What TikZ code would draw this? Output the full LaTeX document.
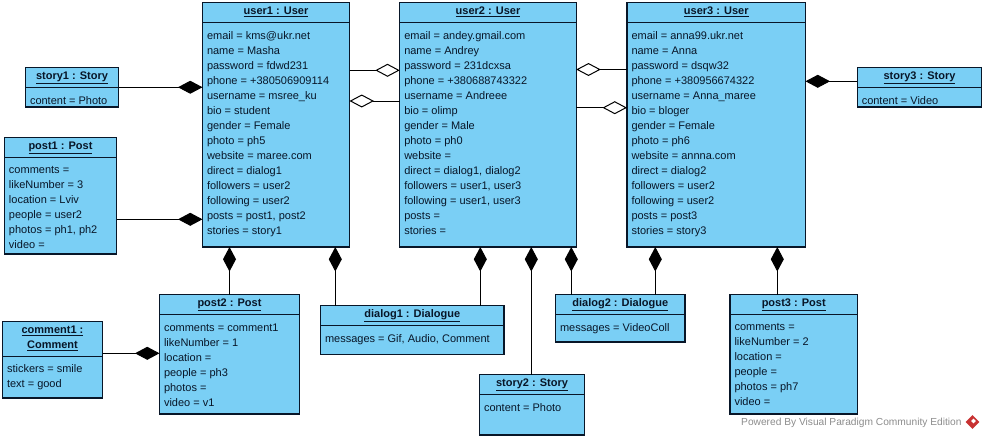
\documentclass[tikz,border=0pt]{standalone}
\usepackage{fontspec}
\setmainfont{Liberation Sans}
\usetikzlibrary{arrows.meta,shapes.geometric}
\definecolor{objfill}{RGB}{122, 207, 245}
\definecolor{objline}{RGB}{8, 22, 40}
\definecolor{vpred}{RGB}{200, 50, 50}
\tikzset{
	objbox/.style={draw=objline, fill=objfill, line width=1.1pt, inner sep=0pt, outer sep=0pt},
	objtitle/.style={inner sep=0pt, outer sep=0pt, align=center, text=objline, font=\fontsize{11}{15}\selectfont\bfseries},
	objattrs/.style={inner sep=0pt, outer sep=0pt, align=left, text=objline, font=\fontsize{11}{15}\selectfont, anchor=north west, xshift=4.5pt},
	headline/.style={draw=objline, line width=1pt},
	comp/.style={draw=black, line width=1pt, -{Diamond[length=24.5pt, width=13pt, fill=black]}},
	aggr/.style={draw=black, line width=1pt, -{Diamond[length=24.5pt, width=13pt, fill=white]}}
}

\begin{document}
\begin{tikzpicture}[x=1pt, y=-1pt]
	\useasboundingbox (0, 0) rectangle (985, 439);

	% users
	\node [objbox, minimum width=147pt, minimum height=244.5pt] (user1) at (276, 124.75) {};
	\node [objtitle, minimum width=147pt, minimum height=19pt, anchor=north] (user1t) at (user1.north) {\underline{user1 : User}};
	\draw [headline] (user1.west |- 0, 22.5) -- (user1.east |- 0, 22.5);
	\node [objattrs, yshift=-29pt] (user1a) at (user1.north west) {email = kms@ukr.net\\name = Masha\\password = fdwd231\\phone = +380506909114\\username = msree\_ku\\bio = student\\gender = Female\\photo = ph5\\website = maree.com\\direct = dialog1\\followers = user2\\following = user2\\posts = post1, post2\\stories = story1};

	\node [objbox, minimum width=176.5pt, minimum height=244.5pt] (user2) at (488, 124.75) {};
	\node [objtitle, minimum width=176.5pt, minimum height=19pt, anchor=north] (user2t) at (user2.north) {\underline{user2 : User}};
	\draw [headline] (user2.west |- 0, 22.5) -- (user2.east |- 0, 22.5);
	\node [objattrs, yshift=-29pt] (user2a) at (user2.north west) {email = andey.gmail.com\\name = Andrey\\password = 231dcxsa\\phone = +380688743322\\username = Andreee\\bio = olimp\\gender = Male\\photo = ph0\\website =\\direct = dialog1, dialog2\\followers = user1, user3\\following = user1, user3\\posts =\\stories =};

	\node [objbox, minimum width=178.5pt, minimum height=244.5pt] (user3) at (716.25, 124.75) {};
	\node [objtitle, minimum width=178.5pt, minimum height=19pt, anchor=north] (user3t) at (user3.north) {\underline{user3 : User}};
	\draw [headline] (user3.west |- 0, 22.5) -- (user3.east |- 0, 22.5);
	\node [objattrs, yshift=-29pt] (user3a) at (user3.north west) {email = anna99.ukr.net\\name = Anna\\password = dsqw32\\phone = +380956674322\\username = Anna\_maree\\bio = bloger\\gender = Female\\photo = ph6\\website = annna.com\\direct = dialog2\\followers = user2\\following = user2\\posts = post3\\stories = story3};

	% stories
	\node [objbox, minimum width=93pt, minimum height=39.5pt] (story1) at (72, 87.25) {};
	\node [objtitle, minimum width=93pt, minimum height=20pt, anchor=north] (story1t) at (story1.north) {\underline{story1 : Story}};
	\draw [headline] (story1t.south west) -- (story1t.south east);
	\node [objattrs, yshift=-29pt] (story1a) at (story1.north west) {content = Photo};

	\node [objbox, minimum width=105pt, minimum height=60.5pt] (story2) at (532, 404.75) {};
	\node [objtitle, minimum width=105pt, minimum height=20pt, anchor=north] (story2t) at (story2.north) {\underline{story2 : Story}};
	\draw [headline] (story2t.south west) -- (story2t.south east);
	\node [objattrs, yshift=-29pt] (story2a) at (story2.north west) {content = Photo};

	\node [objbox, minimum width=124.5pt, minimum height=39.5pt] (story3) at (919.5, 87.25) {};
	\node [objtitle, minimum width=124.5pt, minimum height=20pt, anchor=north] (story3t) at (story3.north) {\underline{story3 : Story}};
	\draw [headline] (story3t.south west) -- (story3t.south east);
	\node [objattrs, yshift=-29pt] (story3a) at (story3.north west) {content = Video};

	% posts
	\node [objbox, minimum width=112pt, minimum height=116.5pt] (post1) at (60.5, 195.75) {};
	\node [objtitle, minimum width=112pt, minimum height=20pt, anchor=north] (post1t) at (post1.north) {\underline{post1 : Post}};
	\draw [headline] (post1t.south west) -- (post1t.south east);
	\node [objattrs, yshift=-29pt] (post1a) at (post1.north west) {comments =\\likeNumber = 3\\location = Lviv\\people = user2\\photos = ph1, ph2\\video =};

	\node [objbox, minimum width=140pt, minimum height=119.5pt] (post2) at (229.5, 354.25) {};
	\node [objtitle, minimum width=140pt, minimum height=20pt, anchor=north] (post2t) at (post2.north) {\underline{post2 : Post}};
	\draw [headline] (post2t.south west) -- (post2t.south east);
	\node [objattrs, yshift=-29pt] (post2a) at (post2.north west) {comments = comment1\\likeNumber = 1\\location =\\people = ph3\\photos =\\video = v1};

	\node [objbox, minimum width=127.5pt, minimum height=119.5pt] (post3) at (793.75, 354.25) {};
	\node [objtitle, minimum width=127.5pt, minimum height=20pt, anchor=north] (post3t) at (post3.north) {\underline{post3 : Post}};
	\draw [headline] (post3t.south west) -- (post3t.south east);
	\node [objattrs, yshift=-29pt] (post3a) at (post3.north west) {comments =\\likeNumber = 2\\location =\\people =\\photos = ph7\\video =};

	% comment
	\node [objbox, minimum width=100pt, minimum height=76.5pt] (comment1) at (52.5, 359.75) {};
	\node [objtitle, minimum width=100pt, minimum height=34.5pt, anchor=north] (comment1t) at (comment1.north) {\underline{comment1 :}\\\underline{Comment}};
	\draw [headline] (comment1t.south west) -- (comment1t.south east);
	\node [objattrs, yshift=-43.5pt] (comment1a) at (comment1.north west) {stickers = smile\\text = good};

	% dialogs
	\node [objbox, minimum width=183.5pt, minimum height=49pt] (dialog1) at (412.25, 330) {};
	\node [objtitle, minimum width=183.5pt, minimum height=20pt, anchor=north] (dialog1t) at (dialog1.north) {\underline{dialog1 : Dialogue}};
	\draw [headline] (dialog1t.south west) -- (dialog1t.south east);
	\node [objattrs, yshift=-25pt, yshift=-4pt] (dialog1a) at (dialog1.north west) {messages = Gif, Audio, Comment};

	\node [objbox, minimum width=129.5pt, minimum height=47.5pt] (dialog2) at (620.25, 318.25) {};
	\node [objtitle, minimum width=129.5pt, minimum height=20pt, anchor=north] (dialog2t) at (dialog2.north) {\underline{dialog2 : Dialogue}};
	\draw [headline] (dialog2t.south west) -- (dialog2t.south east);
	\node [objattrs, yshift=-29pt] (dialog2a) at (dialog2.north west) {messages = VideoColl};

	% composition links
	\draw [comp] (story1.east) -- (user1.west |- story1.east);
	\draw [comp] (post1.east |- 0, 219.3) -- (user1.west |- 0, 219.3);
	\draw [comp] (story3.west |- 0, 81.3) -- (user3.east |- 0, 81.3);
	\draw [comp] (comment1.east |- 0, 353.3) -- (post2.west |- 0, 353.3);
	\draw [comp] (post2.north) -- (post2.north |- user1.south);
	\draw [comp] (dialog1.north -| 335.3, 0) -- (user1.south -| 335.3, 0);
	\draw [comp] (dialog1.north -| 480.3, 0) -- (user2.south -| 480.3, 0);
	\draw [comp] (story2.north -| 531.3, 0) -- (user2.south -| 531.3, 0);
	\draw [comp] (dialog2.north -| 571.3, 0) -- (user2.south -| 571.3, 0);
	\draw [comp] (dialog2.north -| 655.3, 0) -- (user3.south -| 655.3, 0);
	\draw [comp] (post3.north -| 777.3, 0) -- (user3.south -| 777.3, 0);

	% aggregation links
	\draw [aggr] (user1.east |- 0, 70.3) -- (user2.west |- 0, 70.3);
	\draw [aggr] (user2.west |- 0, 101) -- (user1.east |- 0, 101);
	\draw [aggr] (user3.west |- 0, 69.5) -- (user2.east |- 0, 69.5);
	\draw [aggr] (user2.east |- 0, 107.7) -- (user3.west |- 0, 107.7);

	% watermark
	\node [anchor=west, inner sep=0pt, text=black!45, font=\fontsize{10.2}{12}\selectfont] (powered) at (741, 422.5) {Powered By Visual Paradigm Community Edition};
	\node [diamond, fill=vpred, inner sep=0pt, minimum width=14pt, minimum height=14pt] (vplogo) at (972.5, 422) {};
	\node [diamond, fill=white, inner sep=0pt, minimum width=5pt, minimum height=5pt] (vpmark) at (973.5, 421) {};
\end{tikzpicture}
\end{document}
